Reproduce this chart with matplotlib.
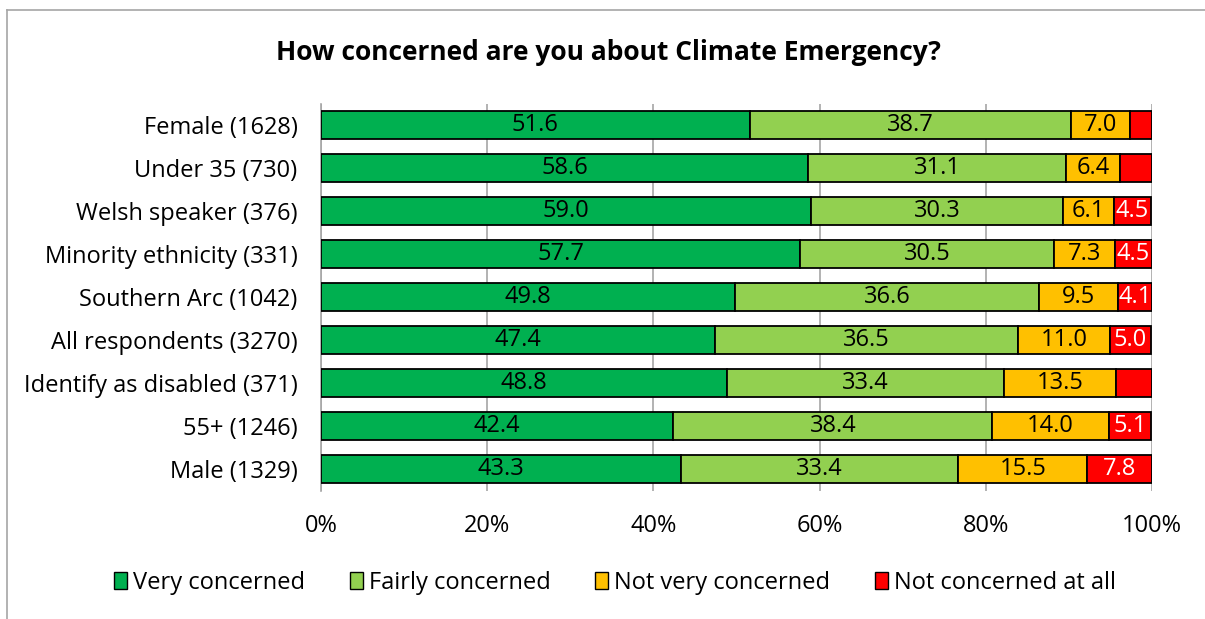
import numpy as np
import matplotlib
matplotlib.use("Agg")
import matplotlib.pyplot as plt
from matplotlib.lines import Line2D
from matplotlib.patches import Patch

plt.rcParams['font.family'] = ['Open Sans', 'DejaVu Sans']

groups = ["Female (1628)", "Under 35 (730)", "Welsh speaker (376)",
          "Minority ethnicity (331)", "Southern Arc (1042)",
          "All respondents (3270)", "Identify as disabled (371)",
          "55+ (1246)", "Male (1329)"]
very = [51.6, 58.6, 59.0, 57.7, 49.8, 47.4, 48.8, 42.4, 43.3]
fairly = [38.7, 31.1, 30.3, 30.5, 36.6, 36.5, 33.4, 38.4, 33.4]
not_very = [7.0, 6.4, 6.1, 7.3, 9.5, 11.0, 13.5, 14.0, 15.5]
not_at_all = [2.7, 3.9, 4.5, 4.5, 4.1, 5.0, 4.3, 5.1, 7.8]
# red labels that appear on the chart (small ones left blank)
not_at_all_shown = [False, False, True, True, True, True, False, True, True]

series = ["Very concerned", "Fairly concerned", "Not very concerned", "Not concerned at all"]
colors = ["#00B050", "#92D050", "#FFC000", "#FF0000"]
label_colors = ["black", "black", "black", "white"]

W, H = 1205, 619
fig = plt.figure(figsize=(W / 100, H / 100), dpi=100)
fig.patch.set_facecolor('white')
ax = fig.add_axes([321 / W, 1 - 490.5 / H, (1152 - 321) / W, (490.5 - 103.5) / H])

y = np.arange(len(groups))
data = [very, fairly, not_very, not_at_all]
left = np.zeros(len(groups))
for vals, col, name, lc in zip(data, colors, series, label_colors):
    bars = ax.barh(y, vals, left=left, height=0.67, color=col, edgecolor='black',
                   linewidth=1.3, label=name, zorder=3)
    if name == "Not concerned at all":
        labels = [f"{v:.1f}" if s else "" for v, s in zip(vals, not_at_all_shown)]
    else:
        labels = [f"{v:.1f}" for v in vals]
    ax.bar_label(bars, labels=labels, label_type='center', color=lc, fontsize=17)
    left += np.array(vals)

ax.set_xlim(0, 100)
ax.set_ylim(len(groups) - 0.5, -0.5)
ax.set_yticks(y)
ax.set_yticklabels(groups, fontsize=17)
ax.set_xticks([0, 20, 40, 60, 80, 100])
ax.set_xticklabels([f"{t}%" for t in [0, 20, 40, 60, 80, 100]], fontsize=17)
ax.tick_params(axis='both', length=0)
ax.tick_params(axis='y', pad=17)
ax.tick_params(axis='x', pad=17)
ax.xaxis.grid(True, color='#A6A6A6', linewidth=1.2, zorder=0)
ax.set_axisbelow(True)
for side in ['top', 'right', 'bottom']:
    ax.spines[side].set_visible(False)
ax.spines['left'].set_color('#A6A6A6')
ax.spines['left'].set_linewidth(1.2)

fig.text(608 / W, 1 - 52 / H, "How concerned are you about Climate Emergency?",
         ha='center', va='center', fontsize=19, fontweight='bold')

handles = [Patch(facecolor=c, edgecolor='black', linewidth=1.0) for c in colors]
fig.legend(handles, series, loc='center', bbox_to_anchor=(615 / W, 1 - 583 / H),
           ncol=4, frameon=False, fontsize=17, handlelength=0.55, handleheight=0.75,
           handletextpad=0.25, columnspacing=1.9)

# chart-area border (cropped on the right and bottom)
fig.add_artist(Line2D([7 / W, 7 / W], [0, 1 - 10 / H], transform=fig.transFigure,
                      color='#A6A6A6', linewidth=1.2))
fig.add_artist(Line2D([7 / W, 1], [1 - 10 / H, 1 - 10 / H], transform=fig.transFigure,
                      color='#A6A6A6', linewidth=1.2))

fig.savefig("out.png", dpi=100)
